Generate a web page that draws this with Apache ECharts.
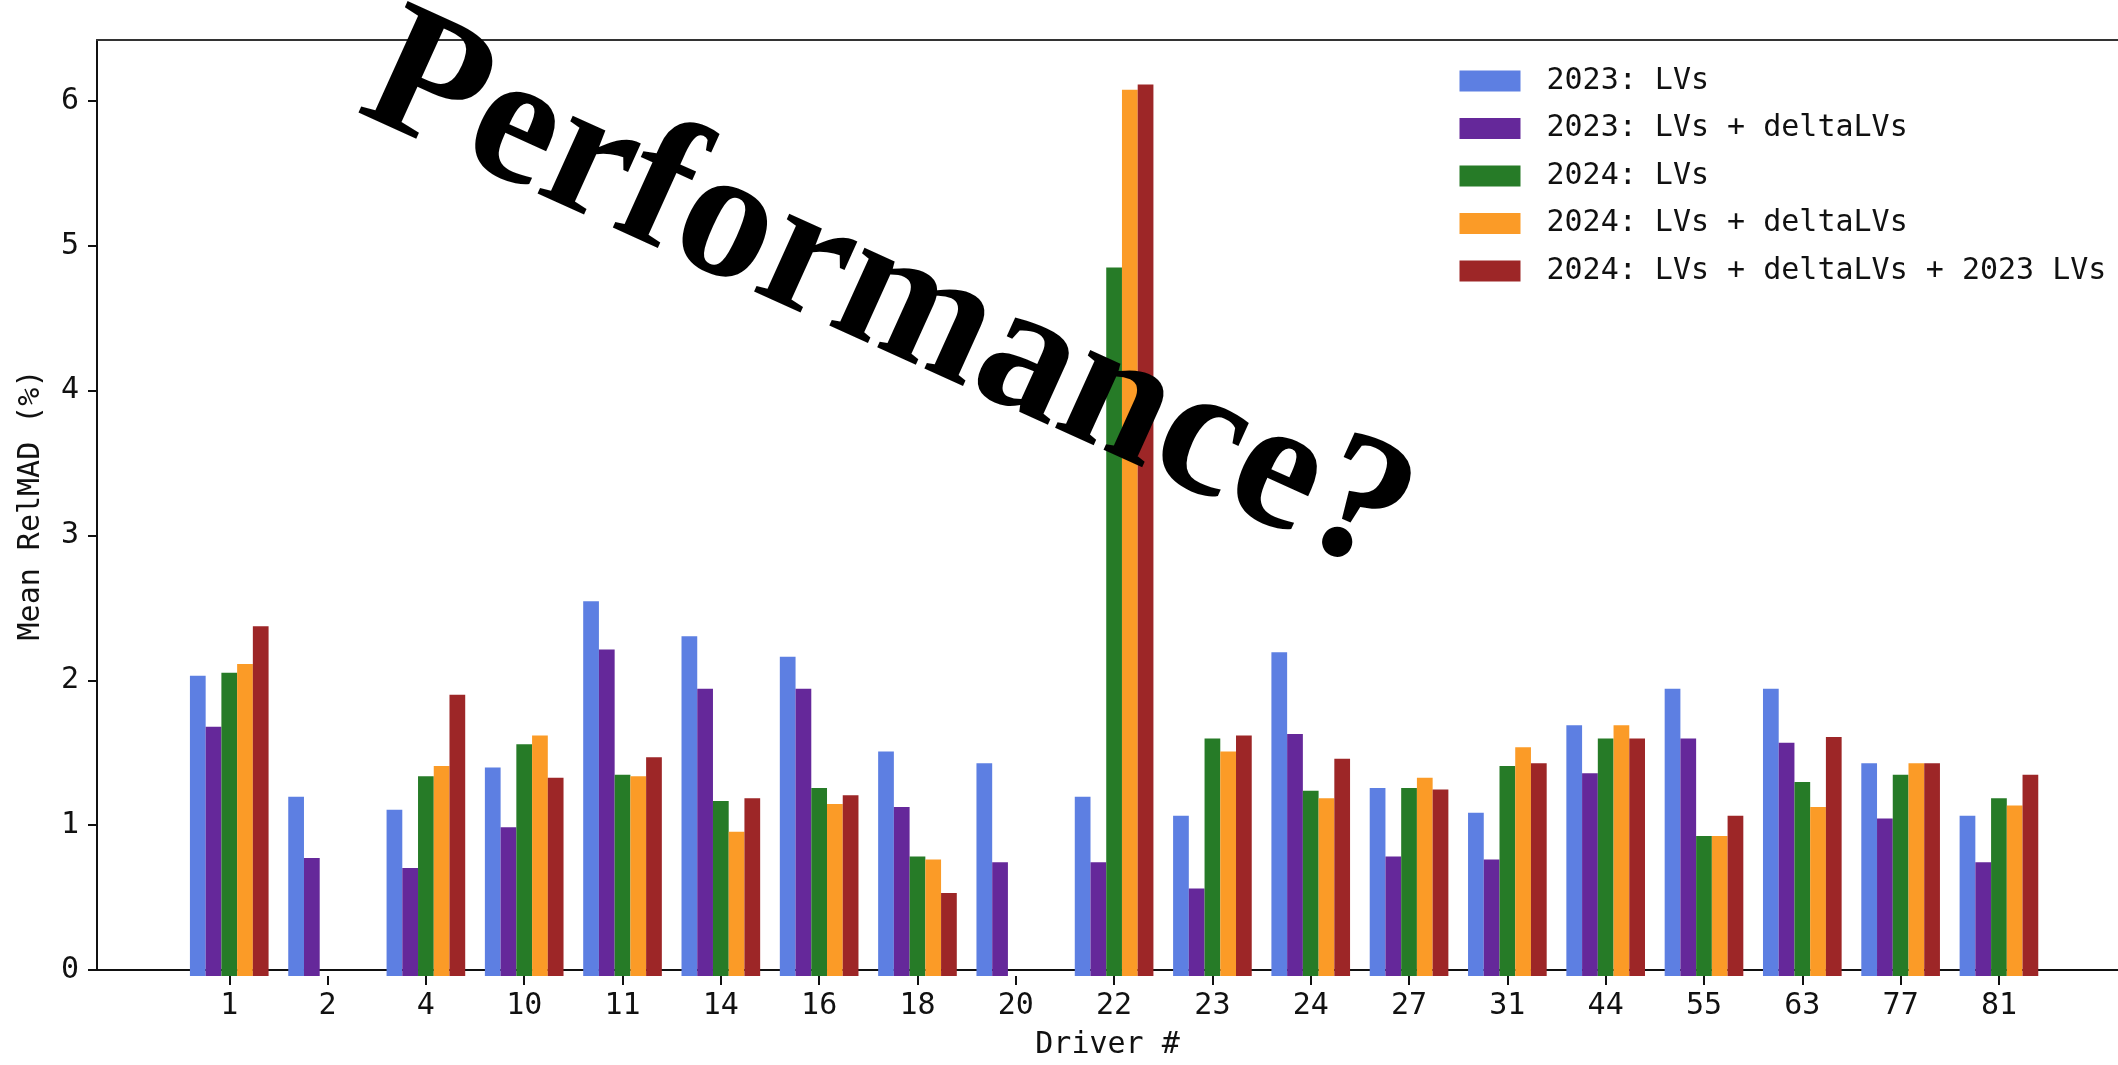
<!DOCTYPE html>
<html>
<head>
<meta charset="utf-8">
<script src="https://cdn.jsdelivr.net/npm/echarts@6/dist/echarts.min.js"></script>
<style>
  html, body { margin: 0; padding: 0; background: #fff; }
  #chart { width: 2118px; height: 1065px; }
</style>
</head>
<body>
<div id="chart"></div>
<script>
// Driver numbers along the x axis
const drivers = ['1', '2', '4', '10', '11', '14', '16', '18', '20', '22', '23', '24', '27', '31', '44', '55', '63', '77', '81'];

// Mean RelMAD (%) per driver for each model variant (null = no 2024 result)
const lv2023 = [2.06, 1.23, 1.14, 1.43, 2.57, 2.33, 2.19, 1.54, 1.46, 1.23, 1.10, 2.22, 1.29, 1.12, 1.72, 1.97, 1.97, 1.46, 1.10];
const lvDelta2023 = [1.71, 0.81, 0.74, 1.02, 2.24, 1.97, 1.97, 1.16, 0.78, 0.78, 0.60, 1.66, 0.82, 0.80, 1.39, 1.63, 1.60, 1.08, 0.78];
const lv2024 = [2.08, null, 1.37, 1.59, 1.38, 1.20, 1.29, 0.82, null, 4.86, 1.63, 1.27, 1.29, 1.44, 1.63, 0.96, 1.33, 1.38, 1.22];
const lvDelta2024 = [2.14, null, 1.44, 1.65, 1.37, 0.99, 1.18, 0.80, null, 6.08, 1.54, 1.22, 1.36, 1.57, 1.72, 0.96, 1.16, 1.46, 1.17];
const lvDeltaPrev2024 = [2.40, null, 1.93, 1.36, 1.50, 1.22, 1.24, 0.57, null, 6.115, 1.65, 1.49, 1.28, 1.46, 1.63, 1.10, 1.64, 1.46, 1.38];

const seriesNames = [
  '2023: LVs',
  '2023: LVs + deltaLVs',
  '2024: LVs',
  '2024: LVs + deltaLVs',
  '2024: LVs + deltaLVs + 2023 LVs'
];
const seriesData = [lv2023, lvDelta2023, lv2024, lvDelta2024, lvDeltaPrev2024];
const colors = ['#5d7fe2', '#65289a', '#267b27', '#fb9b27', '#9d2627'];
const yTicks = [0, 1, 2, 3, 4, 5, 6];

// y range: zero baseline, 5% headroom above the tallest bar
const allValues = seriesData.flat().filter(v => v != null);
const yMax = Math.max(...allValues) * 1.05;

const MONO = '"DejaVu Sans Mono", monospace';
const chart = echarts.init(document.getElementById('chart'), null, { renderer: 'canvas' });

chart.setOption({
  animation: false,
  backgroundColor: '#fff',
  textStyle: { fontFamily: MONO },
  grid: [
    // frame: spines, y ticks and axis titles
    { left: 97, top: 40, width: 2036, height: 936, containLabel: false },
    // bars: one band per driver
    { left: 180.1, top: 40, width: 1868, height: 936, containLabel: false }
  ],
  xAxis: [
    {
      gridIndex: 0, type: 'value', min: 0, max: 1, position: 'bottom',
      name: 'Driver #', nameLocation: 'middle', nameGap: 60,
      nameTextStyle: { fontFamily: MONO, fontSize: 30, color: '#111' },
      axisLine: { show: true, lineStyle: { color: '#111', width: 2 } },
      axisTick: { show: false }, axisLabel: { show: false }, splitLine: { show: false }
    },
    {
      gridIndex: 0, type: 'value', min: 0, max: 1, position: 'top',
      axisLine: { show: true, lineStyle: { color: '#333', width: 2 } },
      axisTick: { show: false }, axisLabel: { show: false }, splitLine: { show: false }
    },
    {
      gridIndex: 1, type: 'category', data: drivers, position: 'bottom',
      axisLine: { show: false },
      axisTick: { show: true, alignWithLabel: true, length: 9, lineStyle: { color: '#111', width: 2 } },
      axisLabel: { fontFamily: MONO, fontSize: 30, color: '#111', margin: 15 },
      splitLine: { show: false }
    }
  ],
  yAxis: [
    {
      gridIndex: 0, type: 'value', min: 0, max: yMax, position: 'left',
      name: 'Mean RelMAD (%)', nameLocation: 'middle', nameGap: 51, nameRotate: 90,
      nameTextStyle: { fontFamily: MONO, fontSize: 30, color: '#111' },
      axisLine: { show: true, lineStyle: { color: '#111', width: 2 } },
      axisTick: { show: true, length: 9, customValues: yTicks, lineStyle: { color: '#111', width: 2 } },
      axisLabel: { fontFamily: MONO, fontSize: 30, color: '#111', margin: 18, customValues: yTicks },
      splitLine: { show: false }
    },
    {
      gridIndex: 1, type: 'value', min: 0, max: yMax, show: false, splitLine: { show: false }
    }
  ],
  legend: {
    orient: 'vertical', left: 1459.5, top: 66, padding: 0,
    itemWidth: 61, itemHeight: 21, itemGap: 17.5, icon: 'rect',
    data: seriesNames,
    textStyle: { fontFamily: MONO, fontSize: 30, lineHeight: 30, color: '#111', padding: [0, 0, 0, 21] }
  },
  series: seriesNames.map((name, i) => ({
    name: name,
    type: 'bar',
    xAxisIndex: 2,
    yAxisIndex: 1,
    data: seriesData[i],
    barWidth: '16%',
    barGap: '0%',
    itemStyle: { color: colors[i] },
    emphasis: { disabled: true }
  })),
  graphic: [
    {
      type: 'text', x: 887, y: 299, rotation: -0.425, z: 100,
      style: {
        text: 'Performance?',
        font: 'bold 186px "Liberation Serif", "Times New Roman", serif',
        fill: '#000', align: 'center', verticalAlign: 'middle'
      }
    }
  ]
});
</script>
</body>
</html>
